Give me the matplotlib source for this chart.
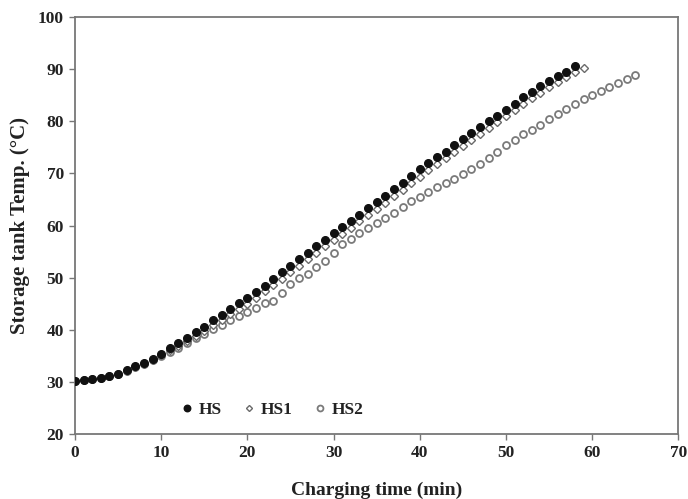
import numpy as np
import matplotlib
matplotlib.use("Agg")
import matplotlib.pyplot as plt

# ---------------------------------------------------------------------------
# Data (one reading per minute)
# ---------------------------------------------------------------------------
t_hs = np.arange(0, 59)
hs = [30.2, 30.3, 30.5, 30.8, 31.2, 31.6, 32.3, 33.0, 33.6, 34.4,
      35.3, 36.5, 37.4, 38.4, 39.5, 40.6, 41.9, 42.9, 44.0, 45.1,
      46.1, 47.3, 48.5, 49.8, 51.0, 52.3, 53.6, 54.8, 56.1, 57.3,
      58.5, 59.7, 60.9, 62.1, 63.3, 64.5, 65.7, 67.0, 68.2, 69.5,
      70.8, 72.0, 73.1, 74.2, 75.4, 76.6, 77.8, 78.9, 80.0, 81.1,
      82.2, 83.4, 84.6, 85.7, 86.8, 87.7, 88.6, 89.5, 90.6]

t_hs1 = np.arange(0, 60)
hs1 = [30.2, 30.3, 30.5, 30.8, 31.2, 31.6, 32.2, 32.9, 33.5, 34.3,
       35.1, 36.1, 36.9, 37.8, 38.8, 39.8, 40.9, 41.9, 43.0, 44.0,
       45.0, 46.2, 47.4, 48.6, 49.8, 51.0, 52.3, 53.5, 54.8, 56.0,
       57.2, 58.4, 59.6, 60.8, 62.0, 63.2, 64.4, 65.7, 66.9, 68.1,
       69.4, 70.6, 71.8, 72.9, 74.1, 75.3, 76.5, 77.6, 78.7, 79.9,
       81.0, 82.2, 83.3, 84.4, 85.5, 86.5, 87.5, 88.5, 89.4, 90.3]

t_hs2 = np.arange(0, 66)
hs2 = [30.2, 30.3, 30.5, 30.8, 31.2, 31.6, 32.2, 32.9, 33.5, 34.2,
       35.0, 35.8, 36.6, 37.4, 38.4, 39.2, 40.1, 41.0, 41.8, 42.6,
       43.4, 44.2, 45.1, 45.6, 47.0, 48.7, 49.9, 50.8, 52.0, 53.2,
       54.8, 56.4, 57.4, 58.6, 59.6, 60.4, 61.5, 62.5, 63.5, 64.7,
       65.5, 66.4, 67.3, 68.1, 68.9, 69.8, 70.8, 71.8, 73.0, 74.2,
       75.4, 76.5, 77.5, 78.4, 79.3, 80.4, 81.4, 82.4, 83.3, 84.2,
       85.0, 85.8, 86.6, 87.3, 88.1, 88.9]

x_ticks = [0, 10, 20, 30, 40, 50, 60, 70]
y_ticks = [20, 30, 40, 50, 60, 70, 80, 90, 100]

# ---------------------------------------------------------------------------
# Figure
# ---------------------------------------------------------------------------
plt.rcParams['font.family'] = ['Liberation Serif', 'DejaVu Serif']
plt.rcParams['font.weight'] = 'bold'

fig = plt.figure(figsize=(6.88, 4.99), dpi=100)
ax = fig.add_axes([0.109, 0.130, 0.877, 0.836])

ax.plot(t_hs2, hs2, linestyle='none', marker='o', markersize=5,
        markerfacecolor='white', markeredgecolor='#7a7a7a',
        markeredgewidth=1.3, label='HS2', zorder=3)
ax.plot(t_hs1, hs1, linestyle='none', marker='D', markersize=3.6,
        markerfacecolor='white', markeredgecolor='#6a6a6a',
        markeredgewidth=1.0, label='HS1', zorder=4)
ax.plot(t_hs, hs, linestyle='none', marker='o', markersize=5.5,
        color='#111111', label='HS', zorder=5)

ax.set_xlim(0, 70)
ax.set_ylim(20, 100)
ax.set_xticks(x_ticks)
ax.set_yticks(y_ticks)

for s in ax.spines.values():
    s.set_color('#777777')
    s.set_linewidth(1.3)
ax.tick_params(direction='out', length=4, width=1.0, color='#777777',
               labelsize=12.5, labelcolor='#222222', pad=4)
for lbl in ax.get_xticklabels() + ax.get_yticklabels():
    lbl.set_fontweight('bold')

ax.set_xlabel('Charging time (min)', fontsize=14, fontweight='bold',
              color='#222222', labelpad=15)
ax.set_ylabel('Storage tank Temp. (°C)', fontsize=15, fontweight='bold',
              color='#222222', labelpad=6)

h, l = ax.get_legend_handles_labels()
order = [2, 1, 0]
leg = ax.legend([h[i] for i in order], [l[i] for i in order], ncol=3,
                frameon=False, loc='center left', bbox_to_anchor=(0.166, 0.058),
                borderaxespad=0, markerscale=0.85,
                handlelength=0.6, handletextpad=0.35, columnspacing=1.3,
                prop={'family': 'Liberation Serif', 'weight': 'bold', 'size': 12.5})
for txt in leg.get_texts():
    txt.set_color('#222222')

fig.savefig('out.png', dpi=100, facecolor='white')
